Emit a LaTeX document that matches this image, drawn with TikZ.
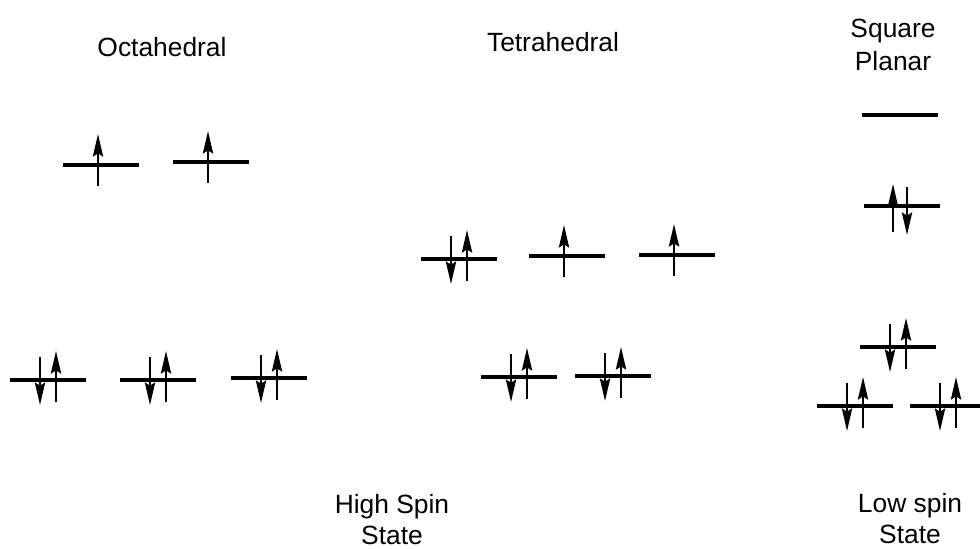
\documentclass[tikz,border=0pt]{standalone}
\usepackage{fontspec}
\setmainfont{Liberation Sans}
\usepackage{tikz}
\usetikzlibrary{arrows.meta}
\tikzset{
  lvl/.style ={line width=1.15pt},
  spin/.style={-{Stealth[length=6.4pt,width=2.9pt,inset=0.9pt]},line width=0.7pt},
  lbl/.style ={font=\fontsize{7.5}{9.5}\selectfont,inner sep=0pt,align=center,anchor=north},
  lblb/.style={lbl,font=\fontsize{7.5}{8.7}\selectfont},
}

\begin{document}
\begin{tikzpicture}[x=0.01cm,y=-0.01cm]
% pixel grid of the scan: 980 x 548, y runs downward
\useasboundingbox (0,0) rectangle (980,548);

% one d level: centre x, height y, filling
% 0 = empty, 1 = one up, 2 = down + up, 3 = up + down
\def\orb#1#2#3{%
  \draw[lvl] (#1-38,#2) -- (#1+38,#2);
  \ifcase#3
  \or
    \draw[spin] (#1-3,#2+21) -- (#1-3,#2-31);
  \or
    \draw[spin] (#1-8,#2-23) -- (#1-8,#2+25);
    \draw[spin] (#1+8,#2+22) -- (#1+8,#2-29);
  \or
    \draw[spin] (#1-9,#2+26) -- (#1-9,#2-22);
    \draw[spin] (#1+5,#2-19) -- (#1+5,#2+29);
  \fi}

%% ---------------- headings ----------------
\node[lbl] (oct) at (162,37) {Octahedral};
\node[lbl] (tet) at (553,32) {Tetrahedral};
\node[lbl] (sqp) at (893,18) {Square\\Planar};

%% ---------------- octahedral ----------------
\orb{101}{165}{1}
\orb{211}{162}{1}
\orb{48}{380}{2}
\orb{158}{380}{2}
\orb{269}{378}{2}

%% ---------------- tetrahedral ----------------
\orb{459}{259}{2}
\orb{567}{256}{1}
\orb{677}{255}{1}
\orb{519}{377}{2}
\orb{613}{376}{2}

%% ---------------- square planar ----------------
\orb{900}{115}{0}
\orb{902}{206}{3}
\orb{898}{347}{2}
\orb{855}{406}{2}
\orb{948}{406}{2}

%% ---------------- states ----------------
\node[lblb] (hs) at (392,494) {High Spin\\State};
\node[lblb] (ls) at (910,493) {Low spin\\State};

\end{tikzpicture}
\end{document}
